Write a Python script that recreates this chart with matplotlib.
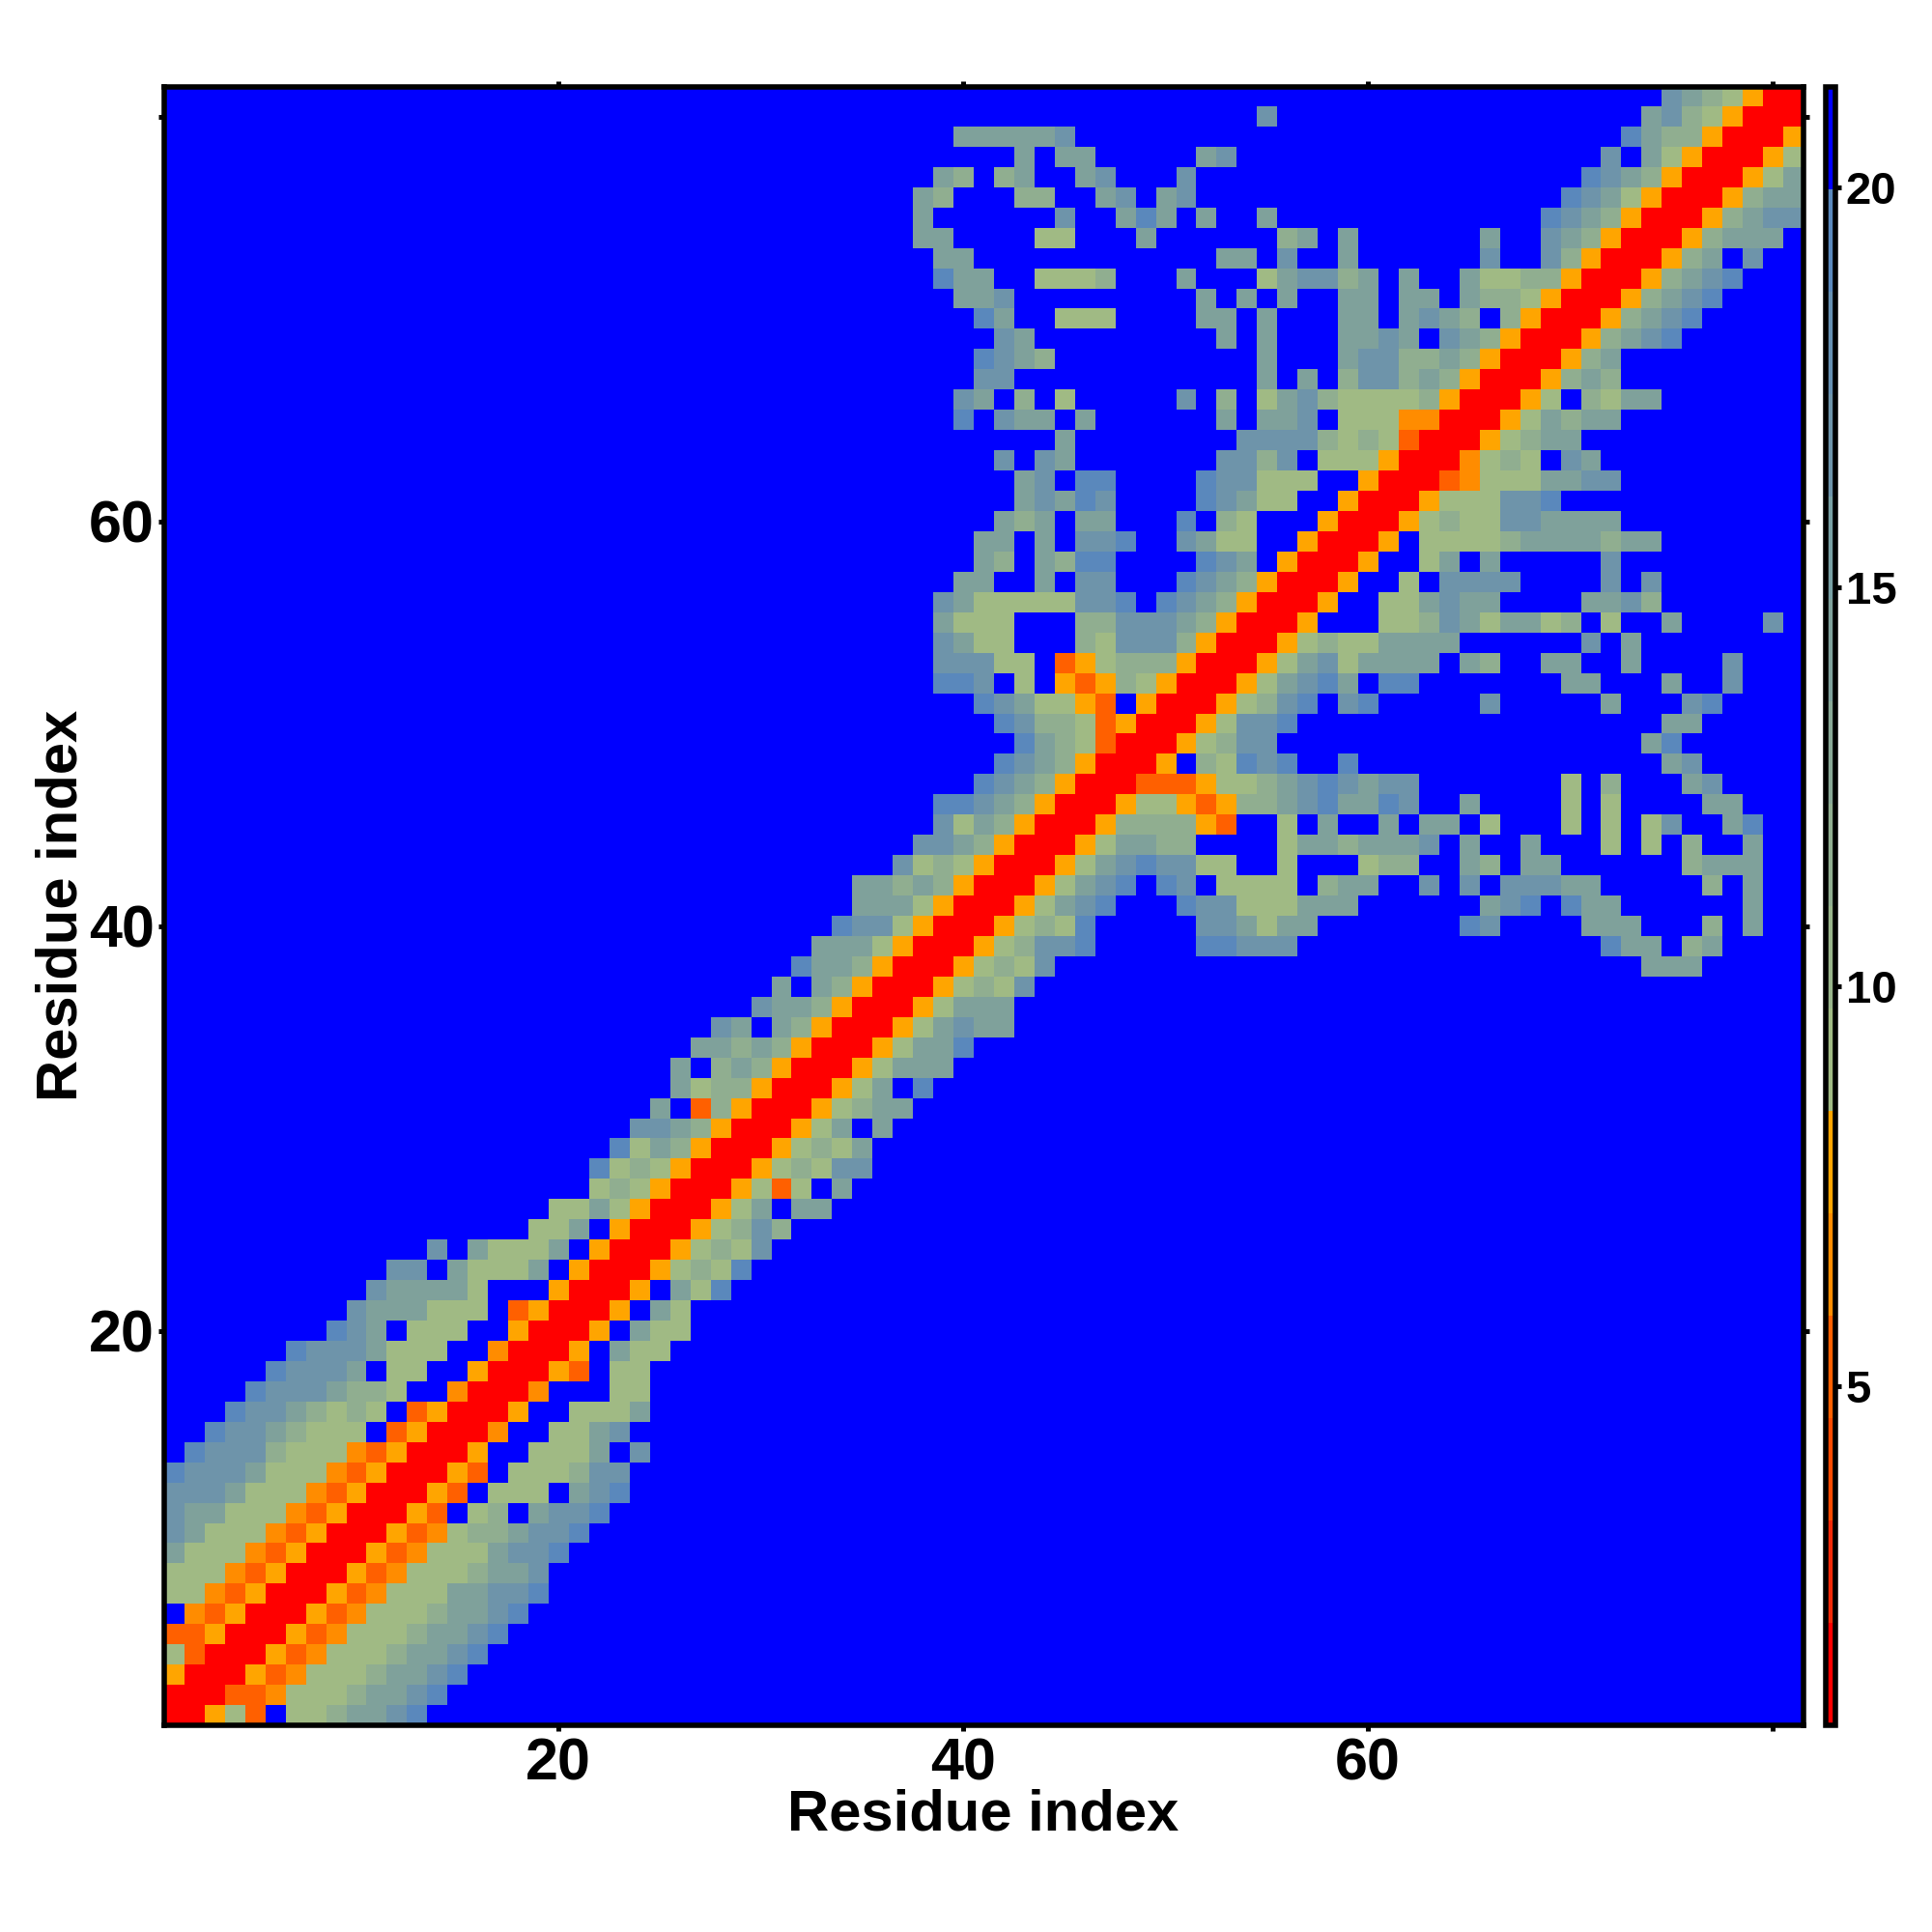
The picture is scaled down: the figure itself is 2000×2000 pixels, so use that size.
import matplotlib
matplotlib.use("Agg")
import matplotlib.pyplot as plt
from matplotlib.colors import BoundaryNorm, ListedColormap
import numpy as np

plt.rcParams['font.family'] = ['Liberation Sans', 'DejaVu Sans']
plt.rcParams['font.weight'] = 'bold'

n_residues = 81
axis_ticks = [20, 40, 60, 80]
axis_tick_labels = ['20', '40', '60', '']
cbar_ticks = [5, 10, 15, 20]

# distance read for each colour seen in the map, anything not listed is far (blue)
level_values = {'R': 1.4, 'D': 5.26, 'F': 6.5, 'O': 7.8, 'a': 9.1, 'b': 11.6,
                'c': 14.2, 'd': 16.8, 'e': 19.3}
far_value = 21.0

# colour steps of the colour bar, low to high
bar_limits = [0.76, 21.26]
bar_colors = ['#FF0000', '#F22A08', '#FC4A00', '#FF6000', '#FF8C00', '#FFA500',
              '#A0BA84', '#98B48A', '#90AE90', '#88A896', '#7FA19B', '#78A0A4',
              '#6E94AA', '#6690B2', '#5A88BC', '#0000FF']

# row (residue on y) -> runs of (first residue on x, levels)
contact_rows = {
    81: [(75, "dcbaORR")],
    80: [(55, "d"), (74, "cdbaORRR")],
    79: [(40, "cccccd"), (73, "ecbbORRRO")],
    78: [(43, "c"), (45, "cc"), (52, "cd"), (72, "d"), (74, "caORRROa")],
    77: [(39, "cb"), (42, "bc"), (46, "cd"), (51, "d"), (71, "edcbORRROac")],
    76: [(38, "cb"), (43, "bb"), (47, "cd"), (50, "cd"), (70, "edcaORRRObcc")],
    75: [(38, "c"), (45, "d"), (48, "cec"), (52, "c"), (55, "c"), (69, "edcbORRRObcdd")],
    74: [(38, "cc"), (44, "aa"), (49, "c"), (56, "bc"), (59, "c"), (66, "c"), (69, "dcbORRRObccc")],
    73: [(39, "cc"), (53, "cc"), (56, "d"), (59, "c"), (66, "d"), (69, "dbORRRObc"), (79, "d")],
    72: [(39, "ecc"), (44, "aaab"), (51, "c"), (55, "acddbc"), (62, "c"), (65, "caabbORRRObcde")],
    71: [(40, "ccd"), (52, "c"), (54, "c"), (56, "c"), (59, "cc"), (62, "cc"), (65, "cbbaORRRObcde")],
    70: [(41, "ec"), (45, "aaa"), (52, "cc"), (55, "c"), (59, "cc"), (62, "cdcb"), (67, "bORRRObcde")],
    69: [(42, "dc"), (53, "c"), (55, "c"), (59, "ccdc"), (64, "dcbORRRObcde")],
    68: [(41, "edcb"), (55, "c"), (59, "cddbbcbORRRObc")],
    67: [(41, "dd"), (55, "c"), (57, "c"), (59, "bddbcbORRRObcb")],
    66: [(40, "dc"), (43, "b"), (45, "a"), (51, "d"), (53, "b"), (55, "acdbaaaabORRROa"), (71, "bacc")],
    65: [(40, "e"), (42, "dcc"), (46, "c"), (53, "c"), (55, "ccd"), (59, "aaaFFRRROacbcc")],
    64: [(45, "c"), (54, "ddddbabaDRRROabcc")],
    63: [(42, "d"), (44, "dc"), (53, "ddbd"), (58, "aaaORRRFaba"), (70, "dc")],
    62: [(43, "cd"), (46, "ee"), (52, "eddaaa"), (60, "ORRRDFaaaccdd")],
    61: [(43, "cdced"), (52, "edcaa"), (59, "ORRROaaadde")],
    60: [(42, "cbc"), (46, "cc"), (51, "e"), (53, "ba"), (58, "ORRROabaaddcccc")],
    59: [(41, "cc"), (44, "c"), (46, "dde"), (51, "dcaa"), (57, "ORRRO"), (63, "aaaabccccbcc")],
    58: [(41, "cb"), (44, "cbee"), (52, "edc"), (56, "ORRRO"), (63, "ac"), (66, "c"), (72, "d")],
    57: [(40, "cc"), (44, "c"), (46, "dd"), (51, "edcb"), (55, "ORRRO"), (62, "a"), (64, "dddd"), (72, "d"), (74, "d")],
    56: [(39, "dcaaaaadde"), (50, "edcbORRRO"), (61, "aacdcc"), (71, "ccdb")],
    55: [(39, "caaa"), (46, "bbdddcbORRRO"), (61, "aabdcaccab"), (72, "a"), (75, "c"), (80, "d")],
    54: [(39, "dcaa"), (46, "badddbORRROabaa"), (61, "cccc"), (71, "d"), (73, "c")],
    53: [(39, "ddd"), (42, "aa"), (45, "DOabbbORRROacdac"), (61, "ccc"), (65, "cb"), (69, "cc"), (73, "c"), (78, "d")],
    52: [(39, "eed"), (43, "a"), (45, "ODObaORRROacdec"), (61, "ee"), (70, "cc"), (75, "c"), (78, "d")],
    51: [(41, "edcaaOD"), (49, "ORRROabde"), (59, "de"), (66, "d"), (72, "c"), (76, "de")],
    50: [(42, "edbbaDORRROadde"), (75, "cc")],
    49: [(43, "ecbaDRRROabdd"), (74, "ce")],
    48: [(42, "edcbORRRO"), (52, "baede"), (59, "e"), (75, "cd")],
    47: [(41, "edcbORRRDDDOaabcdedcdd"), (70, "a"), (72, "b"), (76, "cd")],
    46: [(39, "eedcbORRROaaODObbcdecced"), (65, "c"), (70, "a"), (72, "a"), (77, "cc")],
    45: [(39, "dacbORRRObbbbOD"), (56, "a"), (58, "c"), (61, "c"), (63, "cc"), (66, "a"), (70, "a"), (72, "a"), (74, "ad"), (78, "ce")],
    44: [(38, "ddcbORRROaccbb"), (56, "accbcccd"), (65, "c"), (68, "c"), (72, "a"), (74, "a"), (76, "b"), (79, "c")],
    43: [(37, "dabaORRROacdeddaa"), (56, "a"), (60, "abb"), (65, "cb"), (68, "cc"), (76, "bccc")],
    42: [(35, "cc"), (37, "bcbORRROacde"), (50, "ed"), (53, "aaaa"), (58, "bcc"), (63, "d"), (65, "d"), (67, "dddcc"), (77, "b"), (79, "c")],
    41: [(35, "cccaORRROacde"), (51, "eddaaaccc"), (66, "cde"), (70, "ecc"), (79, "c")],
    40: [(34, "eddaORRROabae"), (52, "ddcacc"), (65, "ed"), (71, "ccc"), (77, "b"), (79, "c")],
    39: [(33, "cccaORRROabdde"), (52, "eeddd"), (72, "ecc"), (76, "bc")],
    38: [(32, "eccbORRROabad"), (74, "ccc")],
    37: [(31, "c"), (33, "cbORRROabad")],
    36: [(30, "dccbORRROaccc")],
    35: [(28, "dc"), (31, "cbORRROacdcc")],
    34: [(27, "ccbcbORRROacce")],
    33: [(26, "c"), (28, "bcbORRROaccc")],
    32: [(26, "cabbORRROac"), (38, "e")],
    31: [(25, "c"), (27, "DbORRROabcc")],
    30: [(24, "ddcbORRROac"), (36, "c")],
    29: [(23, "eacbORRROabac")],
    28: [(22, "eabaORRROabadd")],
    27: [(22, "abaORRROaDa"), (34, "c")],
    26: [(20, "aacaORRROac"), (32, "cc")],
    25: [(19, "aac"), (23, "ORRROabdb")],
    24: [(14, "d"), (16, "caaac"), (22, "ORRROabad")],
    23: [(12, "dd"), (15, "caaac"), (21, "ORRROabae")],
    22: [(11, "dcccca"), (20, "ORRRO"), (26, "cae")],
    21: [(10, "dcccaaa"), (18, "DORRRO"), (25, "ca")],
    20: [(9, "edc"), (13, "aaa"), (18, "ORRRO"), (24, "caa")],
    19: [(7, "edddcaaa"), (17, "FRRRO"), (23, "caa")],
    18: [(6, "edddc"), (12, "aa"), (16, "ORRROD"), (23, "aa")],
    17: [(5, "edddcbba"), (15, "FRRRF"), (23, "aa")],
    16: [(4, "eddcbaba"), (13, "DORRRO"), (21, "aaac")],
    15: [(3, "eddcbaaa"), (12, "DORRRF"), (20, "aacd")],
    14: [(2, "edddbaaaFDORRRO"), (19, "aaac"), (24, "d")],
    13: [(1, "edddcaaaFDORRROD"), (18, "aaabdd")],
    12: [(1, "dddcaaaFDORRROD"), (17, "aaa"), (21, "cde")],
    11: [(1, "dccaaaFDORRROD"), (16, "ab"), (19, "cdde")],
    10: [(1, "dcaaaFDORRRODFabbcdde")],
    9: [(1, "caaaFDORRRODFaaacdde")],
    8: [(1, "aaaFDORRRODFaaabccd")],
    7: [(1, "aaFDORRRODFaaaccdde")],
    6: [(2, "FDORRRODFaaabccde")],
    5: [(1, "DDORRRODFaaabccde")],
    4: [(1, "aDRRRODFaaabccde")],
    3: [(1, "ORRRODFaaabccde")],
    2: [(1, "RRRDDFaaabccde")],
    1: [(1, "RROaD"), (7, "aabccde")],
}

# Fill the matrix from the runs
matrix = np.full((n_residues, n_residues), far_value)
for row, runs in contact_rows.items():
    for start, levels in runs:
        for i, level in enumerate(levels):
            matrix[row - 1, start - 1 + i] = level_values[level]

cmap = ListedColormap(bar_colors)
bounds = np.linspace(bar_limits[0], bar_limits[1], len(bar_colors) + 1)
norm = BoundaryNorm(bounds, cmap.N)

fig = plt.figure(figsize=(10, 10), dpi=200)
ax = fig.add_axes([169.5 / 2000, 1 - 1786 / 2000, 1697 / 2000, 1696.5 / 2000])
im = ax.imshow(matrix, origin='lower', extent=(0.5, 81.5, 0.5, 81.5), aspect='auto',
               cmap=cmap, norm=norm, interpolation='nearest')

ax.set_xticks(axis_ticks)
ax.set_xticklabels(axis_tick_labels)
ax.set_yticks(axis_ticks)
ax.set_yticklabels(axis_tick_labels)
ax.tick_params(axis='both', length=2.2, width=1.8, labelsize=22,
               top=True, right=True, bottom=True, left=True)
ax.tick_params(axis='x', pad=2.2)
ax.tick_params(axis='y', pad=1.2)
for side in ax.spines.values():
    side.set_linewidth(2.0)

ax.set_xlabel("Residue index", fontsize=21.5, fontweight='bold', labelpad=-1.2)
ax.set_ylabel("Residue index", fontsize=21.5, fontweight='bold', labelpad=0.4)

cax = fig.add_axes([1889.5 / 2000, 1 - 1786 / 2000, 11 / 2000, 1696.5 / 2000])
cbar = fig.colorbar(im, cax=cax, ticks=cbar_ticks, spacing='proportional')
cbar.minorticks_off()
cbar.ax.tick_params(length=2.2, width=1.8, labelsize=17, pad=1.5)
cbar.outline.set_linewidth(2.0)

fig.savefig("out.png", dpi=200, facecolor='white')
